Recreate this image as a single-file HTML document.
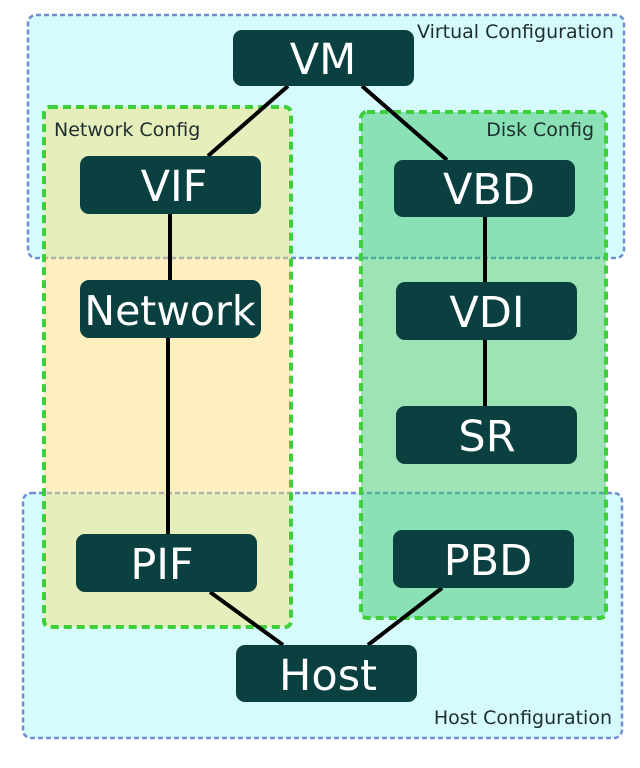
<!DOCTYPE html>
<html><head><style>body{margin:0;background:#fff}svg{display:block}</style></head><body>
<svg width="640" height="768" viewBox="0 0 640 768" xmlns="http://www.w3.org/2000/svg" font-family="DejaVu Sans, sans-serif">
<rect x="28" y="15" width="596" height="243" rx="8" fill="#d6fbfc" stroke="#6f8fd2" stroke-width="2.5" stroke-dasharray="5,3"/>
<rect x="23" y="493" width="599" height="245" rx="8" fill="#d6fbfc" stroke="#6f8fd2" stroke-width="2.5" stroke-dasharray="5,3"/>
<rect x="44" y="107" width="247" height="520" rx="6" fill="rgba(250,222,110,0.45)" stroke="#3fcf3a" stroke-width="4" stroke-dasharray="8,5"/>
<rect x="361" y="112" width="245" height="506" rx="6" fill="rgba(60,200,110,0.5)" stroke="#3fcf3a" stroke-width="4" stroke-dasharray="8,5"/>
<g stroke="#000" stroke-width="4">
<line x1="288" y1="86" x2="208" y2="156"/>
<line x1="362" y1="86" x2="447" y2="160"/>
<line x1="170" y1="214" x2="170" y2="280"/>
<line x1="168" y1="338" x2="168" y2="534"/>
<line x1="485" y1="216" x2="485" y2="406"/>
<line x1="210" y1="592" x2="283" y2="645"/>
<line x1="442" y1="588" x2="368" y2="645"/>
</g>
<g fill="#0b4040">
<rect x="233" y="30" width="181" height="56" rx="9"/>
<rect x="80" y="156" width="181" height="58" rx="9"/>
<rect x="394" y="160" width="181" height="57" rx="9"/>
<rect x="80" y="280" width="181" height="58" rx="9"/>
<rect x="396" y="282" width="181" height="58" rx="9"/>
<rect x="396" y="406" width="181" height="58" rx="9"/>
<rect x="76" y="534" width="181" height="58" rx="9"/>
<rect x="393" y="530" width="181" height="58" rx="9"/>
<rect x="236" y="645" width="181" height="57" rx="9"/>
</g>
<g fill="#fff" font-size="43" text-anchor="middle">
<text x="323" y="74">VM</text>
<text x="174" y="201">VIF</text>
<text x="489" y="204">VBD</text>
<text x="170" y="325" font-size="41">Network</text>
<text x="487" y="327">VDI</text>
<text x="487" y="451">SR</text>
<text x="162" y="579">PIF</text>
<text x="488" y="575">PBD</text>
<text x="328" y="690">Host</text>
</g>
<g fill="#1e2e2e" font-size="19">
<text x="417" y="38">Virtual Configuration</text>
<text x="54" y="136">Network Config</text>
<text x="594" y="136" text-anchor="end">Disk Config</text>
<text x="612" y="724" text-anchor="end">Host Configuration</text>
</g>
</svg>
</body></html>
